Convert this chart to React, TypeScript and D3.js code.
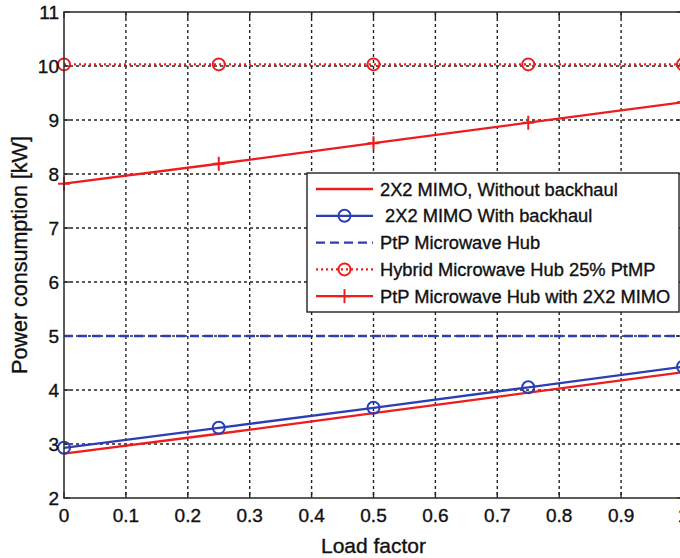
import React from "react";
import * as d3 from "d3";

const xTicks = [0, 0.1, 0.2, 0.3, 0.4, 0.5, 0.6, 0.7, 0.8, 0.9, 1];
const yTicks = [2, 3, 4, 5, 6, 7, 8, 9, 10, 11];
const loadFactor = [0, 0.25, 0.5, 0.75, 1];
const mimoWithoutBackhaul = [2.82, 3.19, 3.57, 3.95, 4.33];
const mimoWithBackhaul = [2.93, 3.3, 3.67, 4.05, 4.43];
const ptpHub = [5, 5, 5, 5, 5];
const hybridHub = [10.03, 10.03, 10.03, 10.03, 10.03];
const ptpHubMimo = [7.82, 8.19, 8.57, 8.95, 9.33];

const legendLabels = [
  "2X2 MIMO, Without backhaul",
  " 2X2 MIMO With backhaul",
  "PtP Microwave Hub",
  "Hybrid Microwave Hub 25% PtMP",
  "PtP Microwave Hub with 2X2 MIMO",
];

const RED = "#ee1c1c";
const BLUE = "#2b3fb3";
const FONT = "Liberation Sans, Arial, sans-serif";

export default function App() {
  const W = 680, H = 558;
  const x = d3.scaleLinear().domain([0, 1]).range([64, 683]);
  const y = d3.scaleLinear().domain([2, 11]).range([498, 12]);
  const line = d3
    .line<number>()
    .x((_, i) => x(loadFactor[i]))
    .y((d) => y(d));

  const series = [
    { data: mimoWithoutBackhaul, color: RED, dash: undefined, marker: "none" },
    { data: mimoWithBackhaul, color: BLUE, dash: undefined, marker: "circle" },
    { data: ptpHub, color: BLUE, dash: "9,5", marker: "none" },
    { data: hybridHub, color: RED, dash: "2,3", marker: "circle" },
    { data: ptpHubMimo, color: RED, dash: undefined, marker: "plus" },
  ];

  const marker = (m: string, cx: number, cy: number, color: string, key: string) => {
    if (m === "circle")
      return <circle key={key} cx={cx} cy={cy} r={6} fill="none" stroke={color} strokeWidth={2} />;
    if (m === "plus")
      return (
        <g key={key} stroke={color} strokeWidth={2}>
          <line x1={cx - 6} x2={cx + 6} y1={cy} y2={cy} />
          <line x1={cx} x2={cx} y1={cy - 7} y2={cy + 7} />
        </g>
      );
    return null;
  };

  const [x0, x1] = x.range();
  const [yb, yt] = y.range();
  const textStyle = { stroke: "#111", strokeWidth: 0.35 } as const;

  return (
    <svg width={W} height={H} style={{ position: "absolute", left: 0, top: 0, background: "#fff" }}>
      <defs>
        <clipPath id="plot">
          <rect x={x0 - 8} y={yt - 8} width={x1 - x0 + 16} height={yb - yt + 16} />
        </clipPath>
      </defs>
      <rect width={W} height={H} fill="#fff" />
      {/* grid */}
      <g stroke="#222" strokeWidth={1.4} strokeDasharray="3,3">
        {xTicks.slice(1, -1).map((t) => (
          <line key={"gx" + t} x1={x(t)} x2={x(t)} y1={yt} y2={yb} />
        ))}
        {yTicks.slice(1, -1).map((t) => (
          <line key={"gy" + t} x1={x0} x2={x1} y1={y(t)} y2={y(t)} />
        ))}
      </g>
      {/* ticks */}
      <g stroke="#222" strokeWidth={1.4}>
        {xTicks.map((t) => (
          <g key={"tx" + t}>
            <line x1={x(t)} x2={x(t)} y1={yb} y2={yb - 6} />
            <line x1={x(t)} x2={x(t)} y1={yt} y2={yt + 6} />
          </g>
        ))}
        {yTicks.map((t) => (
          <g key={"ty" + t}>
            <line x1={x0} x2={x0 + 6} y1={y(t)} y2={y(t)} />
            <line x1={x1} x2={x1 - 6} y1={y(t)} y2={y(t)} />
          </g>
        ))}
      </g>
      {/* series */}
      <g clipPath="url(#plot)">
        {series.map((s, i) => (
          <g key={"s" + i}>
            <path d={line(s.data) || ""} fill="none" stroke={s.color} strokeWidth={2.3} strokeDasharray={s.dash} />
            {s.data.map((v, j) => marker(s.marker, x(loadFactor[j]), y(v), s.color, `m${i}-${j}`))}
          </g>
        ))}
      </g>
      {/* frame */}
      <rect x={x0} y={yt} width={x1 - x0} height={yb - yt} fill="none" stroke="#333" strokeWidth={1.6} />
      {/* tick labels */}
      <g fontFamily={FONT} fontSize={19} fill="#111" style={textStyle}>
        {xTicks.map((t) => (
          <text key={"lx" + t} x={x(t)} y={yb + 24} textAnchor="middle">
            {t === 0 ? "0" : t === 1 ? "1" : t.toFixed(1)}
          </text>
        ))}
        {yTicks.map((t) => (
          <text key={"ly" + t} x={x0 - 5} y={y(t) + 7} textAnchor="end">
            {t}
          </text>
        ))}
      </g>
      <text x={(x0 + x1) / 2} y={553} textAnchor="middle" fontFamily={FONT} fontSize={21} fill="#111" style={textStyle}>
        Load factor
      </text>
      <text
        transform={`translate(27,${(yt + yb) / 2}) rotate(-90)`}
        textAnchor="middle"
        fontFamily={FONT}
        fontSize={21.5}
        fill="#111"
        style={textStyle}
      >
        Power consumption [kW]
      </text>
      {/* legend */}
      <g>
        <rect x={307} y={173} width={372} height={139} fill="#fff" stroke="#222" strokeWidth={1.4} />
        {series.map((s, i) => {
          const ly = 189 + i * 26.8;
          return (
            <g key={"lg" + i}>
              <line x1={316} x2={373} y1={ly} y2={ly} stroke={s.color} strokeWidth={2.3} strokeDasharray={s.dash} />
              {marker(s.marker, 344.5, ly, s.color, "lm" + i)}
              <text
                x={380}
                y={ly + 6.5}
                fontFamily={FONT}
                fontSize={18.3}
                fill="#111"
                style={{ ...textStyle, whiteSpace: "pre" }}
              >
                {legendLabels[i]}
              </text>
            </g>
          );
        })}
      </g>
    </svg>
  );
}
